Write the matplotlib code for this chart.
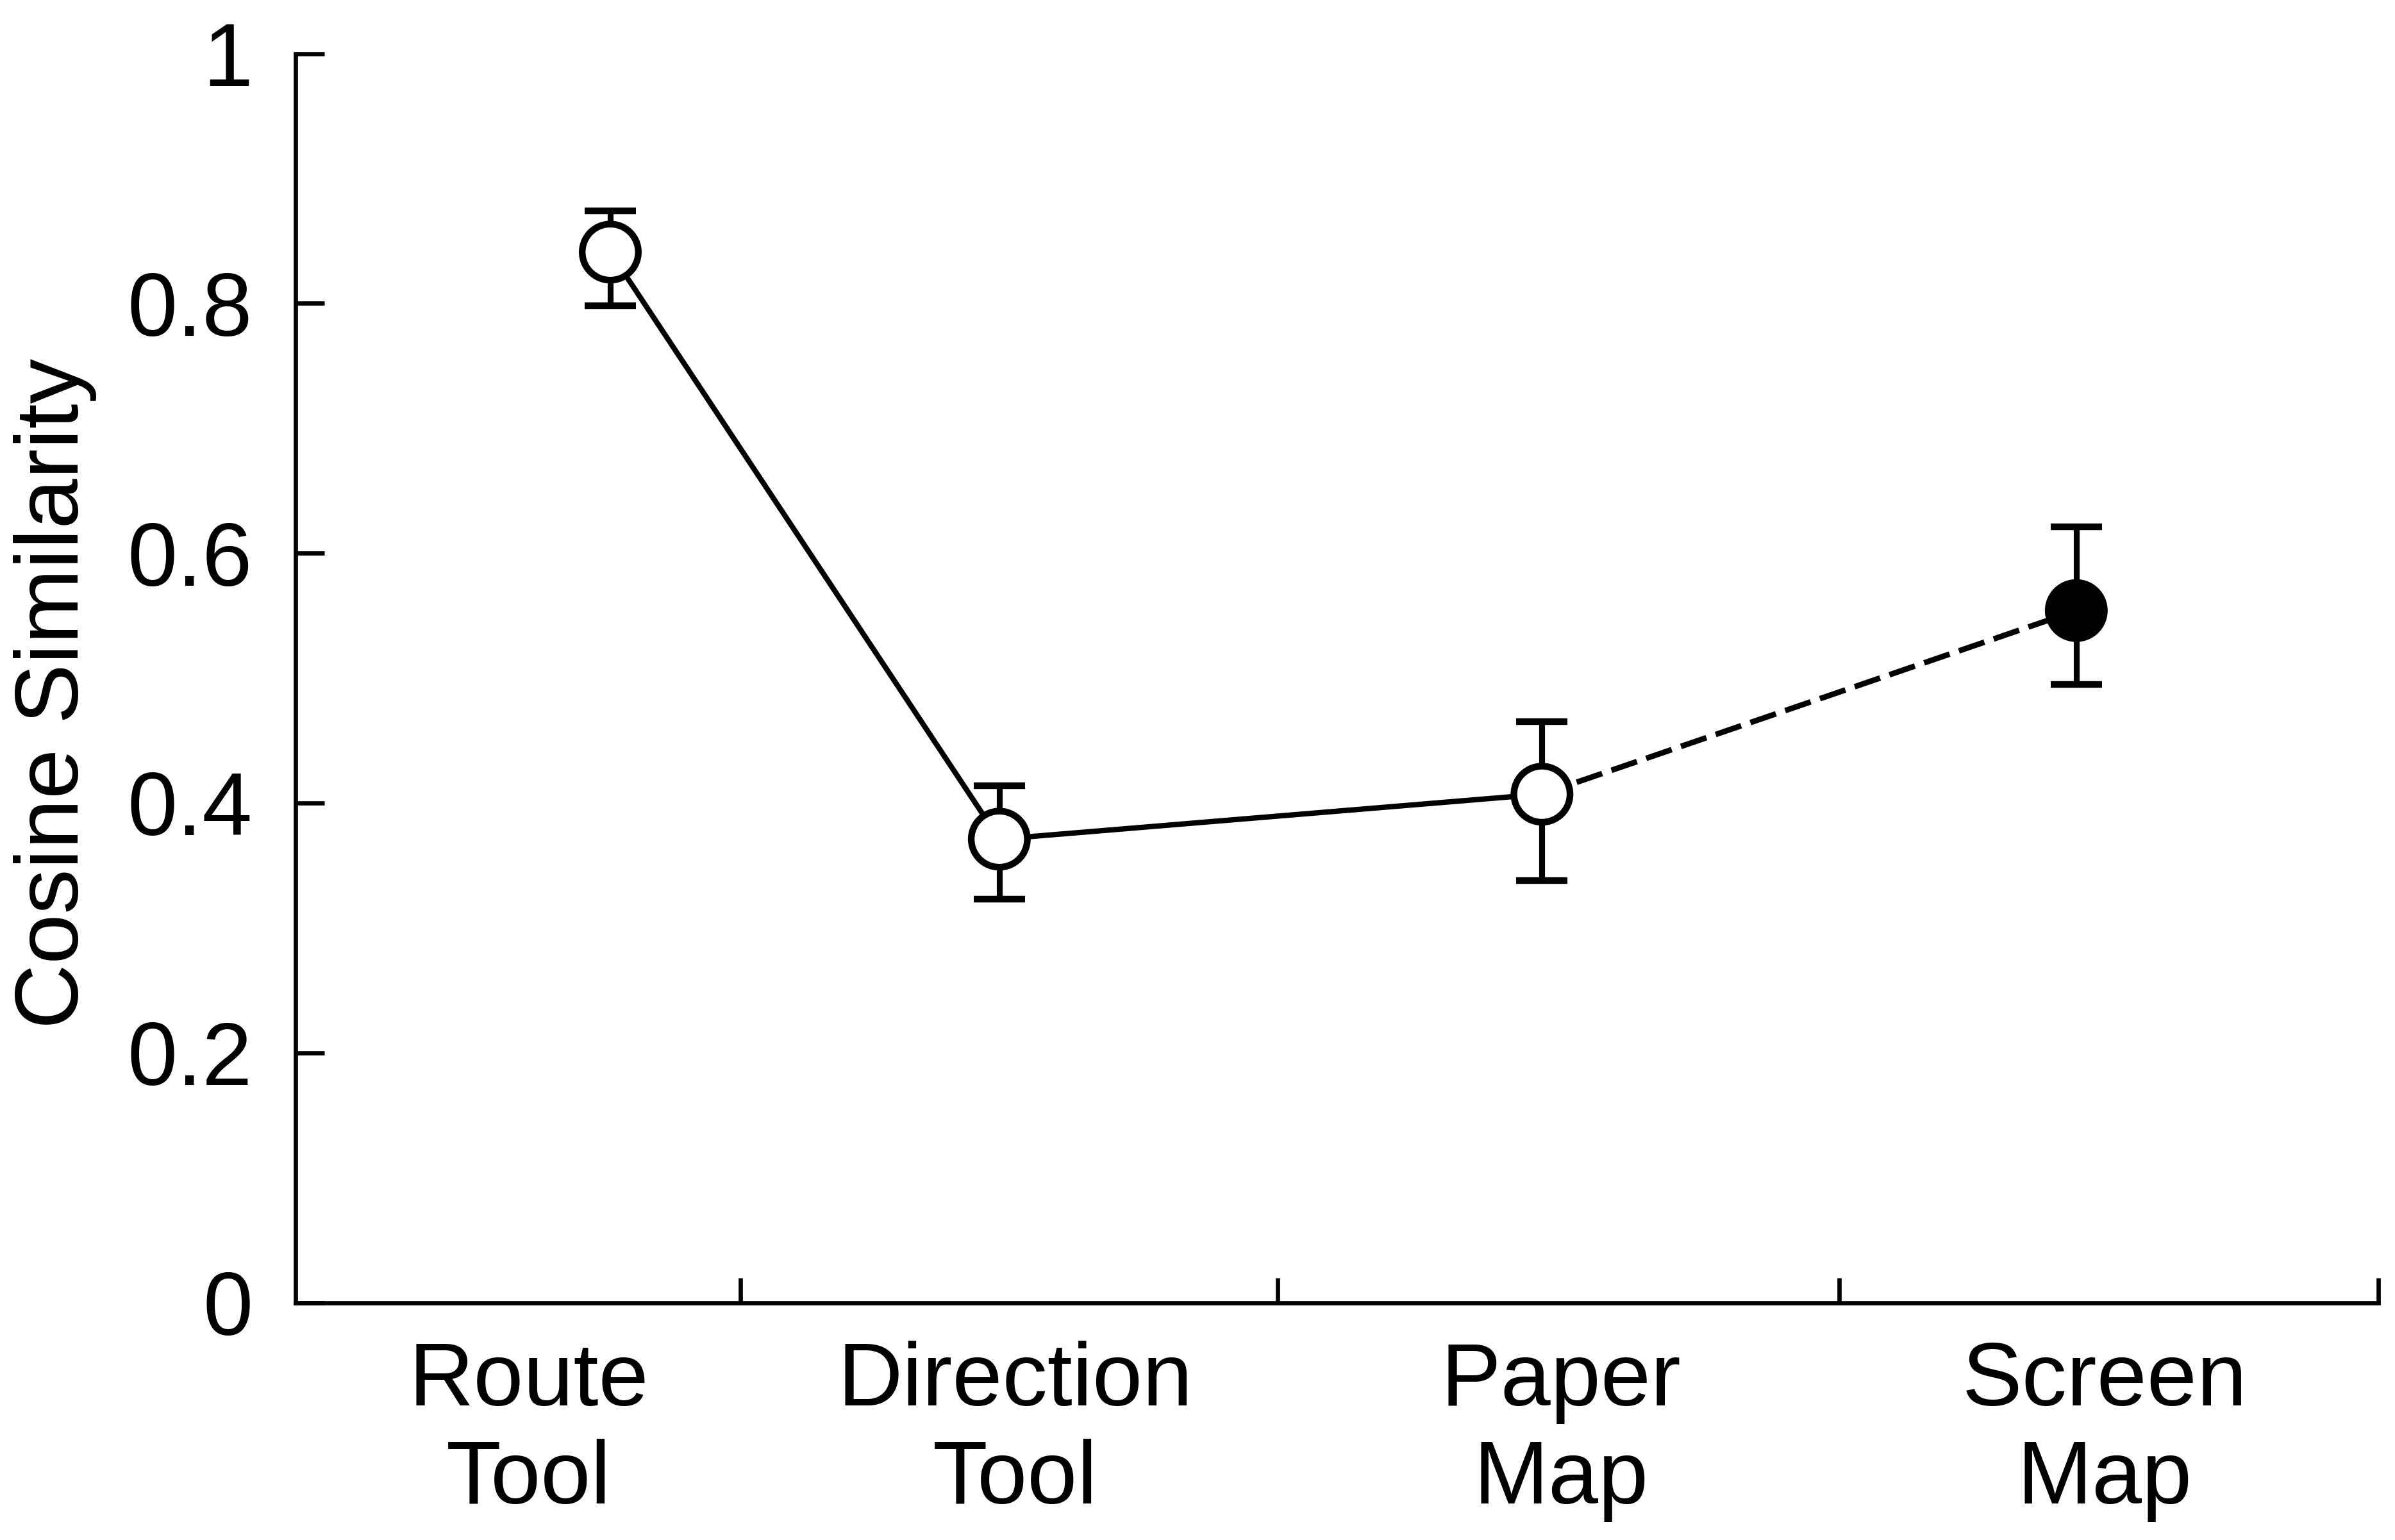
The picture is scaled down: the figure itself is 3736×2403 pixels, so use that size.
import numpy as np
import matplotlib
matplotlib.use('Agg')
import matplotlib.pyplot as plt

# cosine similarity per navigation aid, mean with lower/upper error ends

categories = ['Route\nTool', 'Direction\nTool', 'Paper\nMap', 'Screen\nMap']
x_pos = [0.605, 1.352, 2.394, 3.420]      # where the points sit
label_pos = [0.448, 1.382, 2.430, 3.475]  # where the category names sit
sep_pos = [0.855, 1.886, 2.965, 4.0]      # divider ticks on the x axis

means = [0.841, 0.371, 0.407, 0.554]
upper = [0.874, 0.414, 0.465, 0.621]
lower = [0.798, 0.323, 0.338, 0.495]
face = ['white', 'white', 'white', 'black']

y_ticks = [0, 0.2, 0.4, 0.6, 0.8, 1]
y_tick_labels = ['0', '0.2', '0.4', '0.6', '0.8', '1']

plt.rcParams['font.family'] = ['Liberation Sans', 'DejaVu Sans']
fs = 33.7

W, H = 3736, 2403
fig = plt.figure(figsize=(W / 300, H / 300), dpi=300)

left, right, top, bottom = 460.5, 3710, 83.5, 2032.5
ax = fig.add_axes((left / W, 1 - bottom / H, (right - left) / W, (bottom - top) / H))

means = np.array(means)
yerr = [means - np.array(lower), np.array(upper) - means]

# solid for the first three, dashed into the last one
ax.plot(x_pos[:3], means[:3], '-', color='black', lw=2.0, zorder=1)
ax.plot(x_pos[2:], means[2:], color='black', lw=2.1, zorder=1,
        linestyle=(0, (4.8, 1.75)), dash_capstyle='butt')

ax.errorbar(x_pos, means, yerr=yerr, fmt='none', ecolor='black',
            elinewidth=2.2, capsize=9.6, capthick=2.5, zorder=2)

ax.scatter(x_pos, means, s=21 ** 2, c=face, edgecolors='black',
           linewidths=2.5, zorder=3)

ax.set_xlim(0, 4)
ax.set_ylim(0, 1)

for side in ['top', 'right']:
    ax.spines[side].set_visible(False)
for side in ['left', 'bottom']:
    ax.spines[side].set_linewidth(1.6)

ax.set_xticks(sep_pos)
ax.set_xticklabels([])
ax.tick_params(axis='x', which='major', direction='in', length=9.4, width=1.6)
ax.set_xticks(label_pos, minor=True)
ax.set_xticklabels(categories, minor=True, fontsize=fs)
ax.tick_params(axis='x', which='minor', length=0, pad=14.2)
for lbl in ax.get_xticklabels(minor=True):
    lbl.set_linespacing(1.23)

ax.set_yticks(y_ticks)
ax.set_yticklabels(y_tick_labels, fontsize=fs)
ax.tick_params(axis='y', direction='in', length=10.7, width=1.6, pad=15.9)

fig.text(121.7 / W, 1 - 1082 / H, 'Cosine Similarity', rotation=90,
         rotation_mode='anchor', ha='center', va='baseline', fontsize=fs)

fig.savefig('out.png', dpi=300, facecolor='white')
